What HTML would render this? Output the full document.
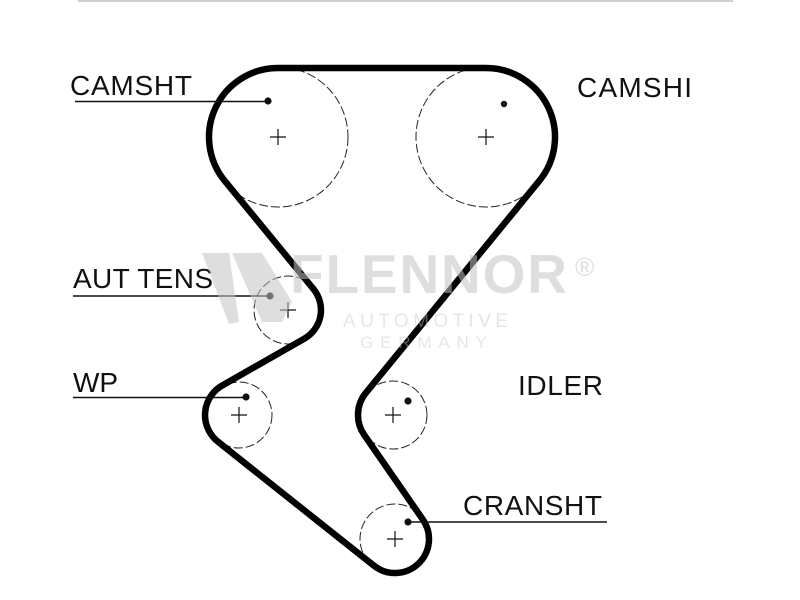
<!DOCTYPE html>
<html>
<head>
<meta charset="utf-8">
<style>
html,body{margin:0;padding:0;background:#fff;}
svg{display:block;}
text{font-family:"Liberation Sans",Arial,sans-serif;}
</style>
</head>
<body>
<svg width="800" height="600" viewBox="0 0 800 600" xmlns="http://www.w3.org/2000/svg">
  <rect x="0" y="0" width="800" height="600" fill="#fff"/>
  <!-- top gray rule -->
  <rect x="78" y="0" width="655" height="2" fill="#cfcfcf"/>

  <!-- dashed pulley circles -->
  <g fill="none" stroke="#222" stroke-width="1" stroke-dasharray="9 3">
    <circle cx="278" cy="137" r="70"/>
    <circle cx="486" cy="137" r="70"/>
    <circle cx="288" cy="310" r="34"/>
    <circle cx="239" cy="415" r="33"/>
    <circle cx="393" cy="415" r="34"/>
    <circle cx="395" cy="539" r="35"/>
  </g>

  <!-- center crosses -->
  <g stroke="#111" stroke-width="1.2">
    <path d="M270 137 H286 M278 129 V145"/>
    <path d="M478 137 H494 M486 129 V145"/>
    <path d="M280 310 H296 M288 302 V318"/>
    <path d="M231 415 H247 M239 407 V423"/>
    <path d="M385 415 H401 M393 407 V423"/>
    <path d="M387 539 H403 M395 531 V547"/>
  </g>

  <!-- belt -->
  <path d="M278,68 L486,68 A69,69 0 0 1 539.4,180.7 L365.9,392.8 A35,35 0 0 0 364.2,434.9 L422.9,519.6 A34,34 0 0 1 373.8,565.6 L217.8,441.6 A34,34 0 0 1 222.2,385.5 L304.3,338.7 A33,33 0 0 0 313.5,289.1 L224.7,180.8 A69,69 0 0 1 278,68 Z"
        fill="none" stroke="#000" stroke-width="6.5" stroke-linejoin="round"/>

  <!-- leader lines -->
  <g stroke="#111" stroke-width="1.6">
    <line x1="75" y1="101.5" x2="268" y2="101.5"/>
    <line x1="73" y1="296" x2="270" y2="296"/>
    <line x1="73" y1="397.5" x2="246" y2="397.5"/>
    <line x1="408" y1="522" x2="607" y2="522"/>
  </g>

  <!-- marker dots -->
  <g fill="#111">
    <circle cx="268" cy="101" r="3.6"/>
    <circle cx="504" cy="104" r="3.2"/>
    <circle cx="270" cy="296" r="3.6"/>
    <circle cx="246" cy="397" r="3.6"/>
    <circle cx="408" cy="401" r="3.6"/>
    <circle cx="408" cy="522" r="3.6"/>
  </g>

  <!-- labels -->
  <g fill="#111" font-size="28">
    <text x="70" y="95" textLength="122" lengthAdjust="spacing">CAMSHT</text>
    <text x="577" y="97" textLength="115" lengthAdjust="spacing">CAMSHI</text>
    <text x="73" y="288" textLength="140" lengthAdjust="spacing">AUT TENS</text>
    <text x="73" y="392" textLength="45" lengthAdjust="spacing">WP</text>
    <text x="518" y="395" textLength="85" lengthAdjust="spacing">IDLER</text>
    <text x="463" y="515" textLength="139" lengthAdjust="spacing">CRANSHT</text>
  </g>

  <!-- watermark overlay -->
  <g opacity="0.55" fill="#c4c4c4">
    <polygon points="202,253 229,253 239,322 229,324"/>
    <polygon points="232,253 262,253 292,302 282,322 262,322"/>
    <text x="290" y="293" font-size="55" font-weight="bold" textLength="277" lengthAdjust="spacing">FLENNOR</text>
    <text x="575" y="276" font-size="26">®</text>
  </g>
  <g opacity="0.45" fill="#c8c8c8">
    <text x="343" y="327" font-size="19" textLength="165" lengthAdjust="spacing">AUTOMOTIVE</text>
    <text x="360" y="348" font-size="17" textLength="127" lengthAdjust="spacing">GERMANY</text>
  </g>
</svg>
</body>
</html>
